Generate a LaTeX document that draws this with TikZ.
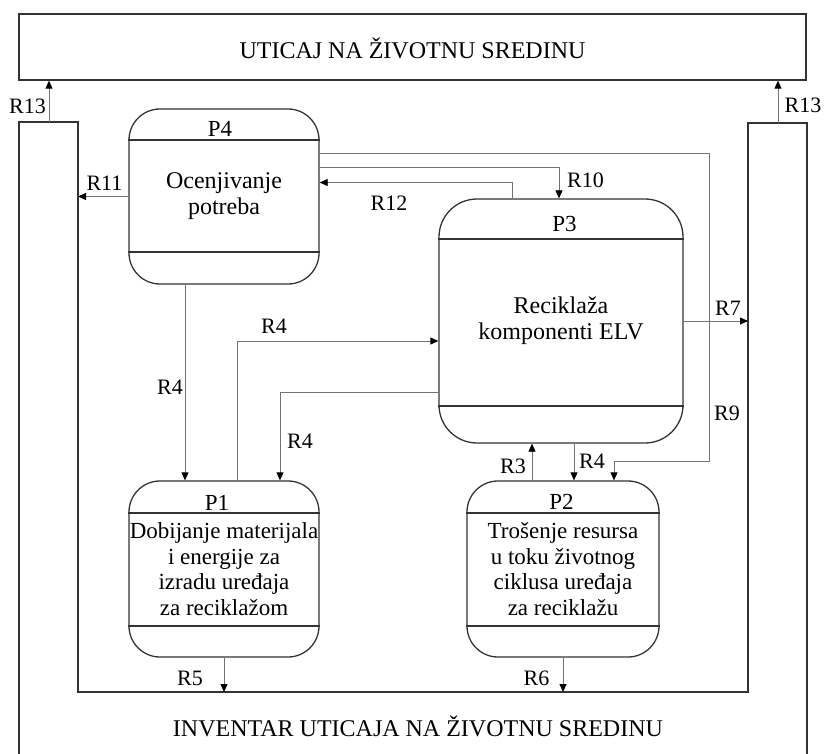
\documentclass[tikz,border=0pt]{standalone}
\usepackage{fontspec}
\setmainfont{Liberation Serif}
\usetikzlibrary{arrows.meta}
\begin{document}
\begin{tikzpicture}[x=1pt,y=-1pt,
  frame/.style={draw=black!80,line width=1.3pt},
  proc/.style={frame,inner sep=0pt,align=center},
  bigtxt/.style={font=\fontsize{24}{26}\selectfont},
  midtxt/.style={font=\fontsize{23}{25.5}\selectfont},
  plabel/.style={inner sep=0pt,font=\fontsize{23}{23}\selectfont,text height=15.5pt,text depth=0pt},
  rlabel/.style={inner sep=0pt,font=\fontsize{22}{22}\selectfont,text height=15pt,text depth=0pt},
  conn/.style={draw=black!55,line width=0.8pt},
  arr/.style={conn,-{Triangle[length=8pt,width=7pt,color=black]}},
  divider/.style={draw=black!80,line width=1.1pt}
]
\useasboundingbox (0,0) rectangle (824,754);

% top box
\node[frame,minimum width=787pt,minimum height=66pt,inner sep=0pt,
      font=\fontsize{24}{24}\selectfont,text height=24pt,text depth=0pt]
  (impact) at (412.5,47) {UTICAJ NA ŽIVOTNU SREDINU};

% inventory frame (U shape)
\draw[frame] (19,754) -- (19,122) -- (78,122) -- (78,692) -- (748,692)
  -- (748,123) -- (807,123) -- (807,754);
\node[inner sep=0pt,font=\fontsize{24}{24}\selectfont,text height=16pt,text depth=0pt]
  (inventar) at (418,728) {INVENTAR UTICAJA NA ŽIVOTNU SREDINU};

% process boxes
\node[proc,bigtxt,rounded corners=31pt,minimum width=190pt,minimum height=175pt]
  (p4) at (224,196.5) {Ocenjivanje\\potreba};
\node[proc,bigtxt,rounded corners=38pt,minimum width=244pt,minimum height=244pt]
  (p3) at (561,321) {Reciklaža\\komponenti ELV};
\node[proc,midtxt,rounded corners=31pt,minimum width=190pt,minimum height=176pt]
  (p1) at (224,569) {Dobijanje materijala\\i energije za\\izradu uređaja\\za reciklažom};
\node[proc,midtxt,rounded corners=31pt,minimum width=192pt,minimum height=176pt]
  (p2) at (563,569) {Trošenje resursa\\u toku životnog\\ciklusa uređaja\\za reciklažu};

% dividers
\draw[divider] (p4.west |- 0,140) -- (p4.east |- 0,140);
\draw[divider] (p4.west |- 0,252) -- (p4.east |- 0,252);
\draw[divider] (p3.west |- 0,239) -- (p3.east |- 0,239);
\draw[divider] (p3.west |- 0,406) -- (p3.east |- 0,406);
\draw[divider] (p1.west |- 0,513) -- (p1.east |- 0,513);
\draw[divider] (p1.west |- 0,626) -- (p1.east |- 0,626);
\draw[divider] (p2.west |- 0,513) -- (p2.east |- 0,513);
\draw[divider] (p2.west |- 0,626) -- (p2.east |- 0,626);

% process labels
\node[plabel] (p4l) at (220,129) {P4};
\node[plabel] (p3l) at (564.5,223.5) {P3};
\node[plabel] (p1l) at (217,502.5) {P1};
\node[plabel] (p2l) at (561.5,501.5) {P2};

% helper coordinates
\coordinate (ul) at (49,122);
\coordinate (ur) at (778,123);
\coordinate (inL) at (78,400);
\coordinate (inR) at (748,400);
\coordinate (inB) at (400,692);
\coordinate (r12) at (512,182.5);
\coordinate (r10) at (559,167);
\coordinate (r9a) at (709.5,153.3);
\coordinate (r9b) at (614,461);
\coordinate (r4a) at (185,380);
\coordinate (r4b) at (237,341);
\coordinate (r4c) at (280,392);
\coordinate (r3) at (532,460);
\coordinate (r4d) at (574,460);

% connectors
\draw[arr] (ul) -- (ul |- impact.south);
\draw[arr] (ur) -- (ur |- impact.south);
\draw[arr] (p4.west) -- (p4.west -| inL);
\draw[arr] (r12 |- p3.north) -- (r12) -- (r12 -| p4.east);
\draw[arr] (r10 -| p4.east) -- (r10) -- (r10 |- p3.north);
\draw[arr] (r9a -| p4.east) -- (r9a) |- (r9b) -- (r9b |- p2.north);
\draw[arr] (p3.east) -- (p3.east -| inR);
\draw[arr] (r4a |- p4.south) -- (r4a |- p1.north);
\draw[arr] (r4b |- p1.north) -- (r4b) -- (r4b -| p3.west);
\draw[arr] (r4c -| p3.west) -- (r4c) -- (r4c |- p1.north);
\draw[arr] (r3 |- p2.north) -- (r3 |- p3.south);
\draw[arr] (r4d |- p3.south) -- (r4d |- p2.north);
\draw[arr] (p1.south) -- (p1.south |- inB);
\draw[arr] (p2.south) -- (p2.south |- inB);

% connector labels
\node[rlabel] (l13a) at (27.5,106) {R13};
\node[rlabel] (l13b) at (803,105) {R13};
\node[rlabel] (l11) at (104.5,183) {R11};
\node[rlabel] (l12) at (389,203) {R12};
\node[rlabel] (l10) at (585.5,180) {R10};
\node[rlabel] (l4a) at (274,325.5) {R4};
\node[rlabel] (l4b) at (170,387) {R4};
\node[rlabel] (l4c) at (300,441) {R4};
\node[rlabel] (l7) at (728,308) {R7};
\node[rlabel] (l9) at (727,413) {R9};
\node[rlabel] (l3) at (513,466) {R3};
\node[rlabel] (l4d) at (592,461) {R4};
\node[rlabel] (l5) at (190,678) {R5};
\node[rlabel] (l6) at (536.5,678) {R6};
\end{tikzpicture}
\end{document}
